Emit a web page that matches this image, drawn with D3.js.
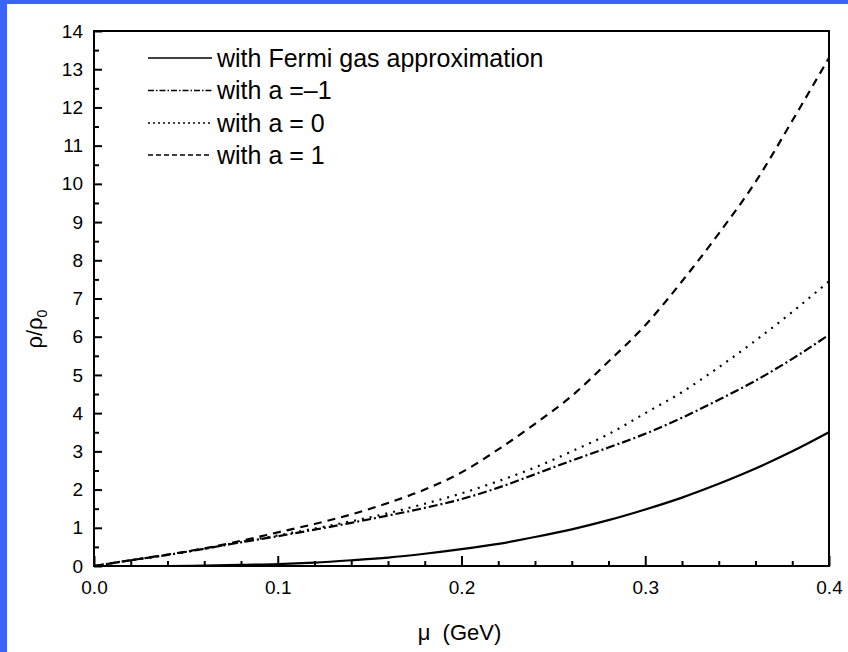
<!DOCTYPE html>
<html>
<head>
<meta charset="utf-8">
<script src="https://cdn.jsdelivr.net/npm/d3@7"></script>
<style>
  html, body { margin: 0; padding: 0; background: #fff; }
  svg { display: block; font-family: "Liberation Sans", Arial, sans-serif; }
</style>
</head>
<body>
<svg id="chart" width="848" height="652"></svg>
<script>
// chemical potential (GeV)
const mu = [0, 0.02, 0.04, 0.06, 0.08, 0.10, 0.12, 0.14, 0.16, 0.18, 0.20,
            0.22, 0.24, 0.26, 0.28, 0.30, 0.32, 0.34, 0.36, 0.38, 0.40]

// rho / rho0
const fermiGas = [0, 0, 0, 0.01, 0.03, 0.05, 0.09, 0.15, 0.22, 0.32, 0.44,
                  0.58, 0.76, 0.96, 1.20, 1.48, 1.79, 2.15, 2.55, 3.00, 3.50]
const aMinus1 = [0, 0.15, 0.29, 0.45, 0.62, 0.78, 0.95, 1.13, 1.32, 1.52, 1.75,
                 2.05, 2.40, 2.76, 3.10, 3.46, 3.88, 4.35, 4.85, 5.42, 6.05]
const aZero = [0, 0.15, 0.29, 0.45, 0.63, 0.80, 0.98, 1.17, 1.38, 1.63, 1.90,
               2.22, 2.58, 3.00, 3.45, 4.00, 4.55, 5.20, 5.90, 6.65, 7.45]
const aPlus1 = [0, 0.15, 0.30, 0.46, 0.66, 0.88, 1.10, 1.35, 1.65, 2.00, 2.45,
                3.05, 3.72, 4.45, 5.35, 6.30, 7.45, 8.70, 10.05, 11.65, 13.30]

const seriesNames = ['with Fermi gas approximation', 'with a =\u20131', 'with a = 0', 'with a = 1']
const xTicks = [0, 0.1, 0.2, 0.3, 0.4]
const yTicks = d3.range(0, 15)

const series = [
  { name: seriesNames[0], values: fermiGas, dash: null, legendDash: null },
  { name: seriesNames[1], values: aMinus1, dash: '9 3 2 3', legendDash: '6 2 1.5 2' },
  { name: seriesNames[2], values: aZero, dash: '2 6', legendDash: '2 3' },
  { name: seriesNames[3], values: aPlus1, dash: '8 6', legendDash: '5 3' }
]

const svg = d3.select('#chart')
const margin = { left: 94, right: 19, top: 31, bottom: 86 }
const W = 848, H = 652
const x = d3.scaleLinear().domain([0, 0.4]).range([margin.left, W - margin.right])
const y = d3.scaleLinear().domain([0, 14]).range([H - margin.bottom, margin.top])

// blue slide edges
svg.append('rect').attr('x', 0).attr('y', 0).attr('width', W).attr('height', 4).attr('fill', '#3a63f7')
svg.append('rect').attr('x', 0).attr('y', 0).attr('width', 7).attr('height', H).attr('fill', '#3a63f7')

// minor ticks
svg.append('g')
  .attr('transform', 'translate(0,' + y(0) + ')')
  .call(d3.axisBottom(x).tickValues(d3.range(0.02, 0.4, 0.02).filter((d, i) => (i + 1) % 5 !== 0))
    .tickSize(-5).tickFormat(''))
  .call(g => g.select('.domain').remove())
  .call(g => g.selectAll('line').attr('stroke', '#000').attr('stroke-width', 2))

svg.append('g')
  .attr('transform', 'translate(' + x(0) + ',0)')
  .call(d3.axisLeft(y).tickValues(d3.range(0.5, 14, 1)).tickSize(-5).tickFormat(''))
  .call(g => g.select('.domain').remove())
  .call(g => g.selectAll('line').attr('stroke', '#000').attr('stroke-width', 2))

// major ticks
svg.append('g')
  .attr('transform', 'translate(0,' + y(0) + ')')
  .call(d3.axisBottom(x).tickValues(xTicks).tickSize(-10).tickPadding(15).tickFormat(d3.format('.1f')))
  .call(g => g.select('.domain').remove())
  .call(g => g.selectAll('line').attr('stroke', '#000').attr('stroke-width', 2))
  .call(g => g.selectAll('text').attr('font-size', 19).attr('font-family', null).attr('fill', '#000'))

svg.append('g')
  .attr('transform', 'translate(' + x(0) + ',0)')
  .call(d3.axisLeft(y).tickValues(yTicks).tickSize(-8).tickPadding(11).tickFormat(d3.format('d')))
  .call(g => g.select('.domain').remove())
  .call(g => g.selectAll('line').attr('stroke', '#000').attr('stroke-width', 2))
  .call(g => g.selectAll('text').attr('font-size', 19).attr('font-family', null).attr('fill', '#000'))

// curves
const line = d3.line()
  .x((d, i) => x(mu[i]))
  .y(d => y(d))
  .curve(d3.curveMonotoneX)

svg.append('g').selectAll('path')
  .data(series)
  .enter()
  .append('path')
    .attr('d', d => line(d.values))
    .attr('fill', 'none')
    .attr('stroke', '#000')
    .attr('stroke-width', 2.2)
    .attr('stroke-dasharray', d => d.dash)

// frame
svg.append('rect')
  .attr('x', x(0)).attr('y', y(14))
  .attr('width', x(0.4) - x(0)).attr('height', y(0) - y(14))
  .attr('fill', 'none').attr('stroke', '#000').attr('stroke-width', 2)

// legend
const legend = svg.append('g').attr('id', 'legend')
const legendRows = [58, 90.5, 123, 155]

legend.selectAll('line')
  .data(series)
  .enter()
  .append('line')
    .attr('x1', 148).attr('x2', 212)
    .attr('y1', (d, i) => legendRows[i]).attr('y2', (d, i) => legendRows[i])
    .attr('stroke', '#000').attr('stroke-width', 1.3)
    .attr('stroke-dasharray', d => d.legendDash)

legend.selectAll('text')
  .data(series)
  .enter()
  .append('text')
    .attr('x', 217)
    .attr('y', (d, i) => legendRows[i])
    .attr('dy', '0.35em')
    .attr('font-size', 25)
    .text(d => d.name)

// axis titles
svg.append('text')
  .attr('x', x(0.2) - 2).attr('y', 640)
  .attr('text-anchor', 'middle')
  .attr('font-size', 22)
  .text('\u03bc\u00a0 (GeV)')

const yTitle = svg.append('text')
  .attr('transform', 'translate(42,' + y(6.2) + ') rotate(-90)')
  .attr('text-anchor', 'middle')
  .attr('font-size', 22)
yTitle.append('tspan').text('\u03c1/\u03c1')
yTitle.append('tspan').attr('font-size', 14).attr('dy', 5).text('0')
</script>
</body>
</html>
